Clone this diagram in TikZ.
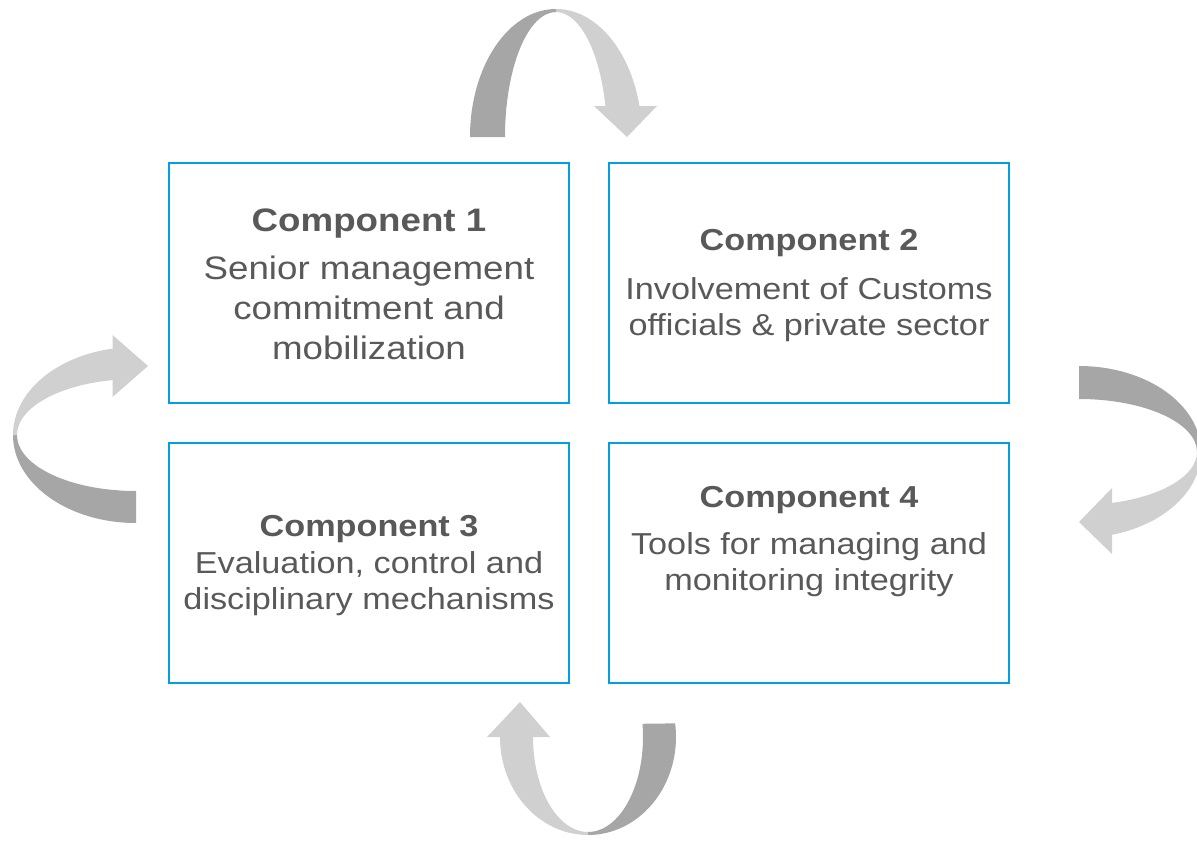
\documentclass[tikz,border=0pt]{standalone}
\usepackage{fontspec}
\setmainfont[FakeStretch=1.13]{Liberation Sans}
\usepackage{xcolor}
\usepackage{tikz}

\definecolor{boxblue}{HTML}{00A0E3}
\definecolor{txtgray}{HTML}{595959}
\definecolor{ribdark}{HTML}{A6A6A6}
\definecolor{riblight}{HTML}{D0D0D0}

\tikzset{
  comp/.style={draw=boxblue, line width=2pt, minimum width=400pt, minimum height=240pt, inner sep=0pt},
  comptext/.style={text=txtgray, align=center, inner sep=0pt, font=\fontsize{30.3}{36}\selectfont},
}

\begin{document}
\begin{tikzpicture}[x=1pt, y=-1pt]
        \useasboundingbox (0,0) rectangle (1197,841);
        % the four components
        \node[comp] (c1) at (369, 283) {};
        \node[comp] (c2) at (809, 283) {};
        \node[comp] (c3) at (369, 563) {};
        \node[comp] (c4) at (809, 563) {};
        \node[comptext, font=\fontsize{32.5}{40}\selectfont] (t1) at (369, 284) {{\bfseries Component 1}\\[8pt]Senior management\\commitment and\\mobilization};
        \node[comptext] (t2) at (809, 286) {{\bfseries Component 2}\\[13pt]Involvement of Customs\\officials \& private sector};
        \node[comptext] (t3) at (369, 566) {{\bfseries Component 3}\\[1pt]Evaluation, control and\\disciplinary mechanisms};
        \node[comptext] (t4) at (809, 542) {{\bfseries Component 4}\\[11pt]Tools for managing and\\monitoring integrity};
        % top ribbon arrow
        \begin{scope}[shift={(556,137)}]
            \fill[ribdark] (180:86 and 128) arc[start angle=180, end angle=270, x radius=86, y radius=128] -- (270:51 and 125) arc[start angle=270, end angle=180, x radius=51, y radius=125] -- cycle;
            \fill[riblight] (270:86 and 128) arc[start angle=270, end angle=347, x radius=86, y radius=128] -- (347:51 and 125) arc[start angle=347, end angle=270, x radius=51, y radius=125] -- cycle;
        \end{scope}
        \fill[riblight] (594,106) -- (657,106) -- (627,137) -- cycle;
        % right ribbon arrow
        \begin{scope}[shift={(1079,452)}]
            \fill[ribdark] (270:122 and 86) arc[start angle=270, end angle=360, x radius=122, y radius=86] -- (0:118 and 53) arc[start angle=360, end angle=270, x radius=118, y radius=53] -- cycle;
            \fill[riblight] (0:122 and 86) arc[start angle=0, end angle=75, x radius=122, y radius=86] -- (75:118 and 53) arc[start angle=75, end angle=0, x radius=118, y radius=53] -- cycle;
        \end{scope}
        \fill[riblight] (1112,488) -- (1112,554) -- (1079,522) -- cycle;
        % bottom ribbon arrow
        \begin{scope}[shift={(588,737)}]
            \fill[ribdark] (-8:88 and 98) arc[start angle=-8, end angle=90, x radius=88, y radius=98] -- (90:55 and 95) arc[start angle=90, end angle=-8, x radius=55, y radius=95] -- cycle;
            \fill[riblight] (90:88 and 98) arc[start angle=90, end angle=181, x radius=88, y radius=98] -- (181:55 and 95) arc[start angle=181, end angle=90, x radius=55, y radius=95] -- cycle;
        \end{scope}
        \fill[riblight] (487,737) -- (550,737) -- (520,702) -- cycle;
        % left ribbon arrow
        \begin{scope}[shift={(136,435)}]
            \fill[ribdark] (90:123 and 88) arc[start angle=90, end angle=180, x radius=123, y radius=88] -- (180:119 and 56) arc[start angle=180, end angle=90, x radius=119, y radius=56] -- cycle;
            \fill[riblight] (180:123 and 88) arc[start angle=180, end angle=260, x radius=123, y radius=88] -- (260:119 and 56) arc[start angle=260, end angle=180, x radius=119, y radius=56] -- cycle;
        \end{scope}
        \fill[riblight] (112.5,335) -- (112.5,397) -- (148,366) -- cycle;
    \end{tikzpicture}
\end{document}
